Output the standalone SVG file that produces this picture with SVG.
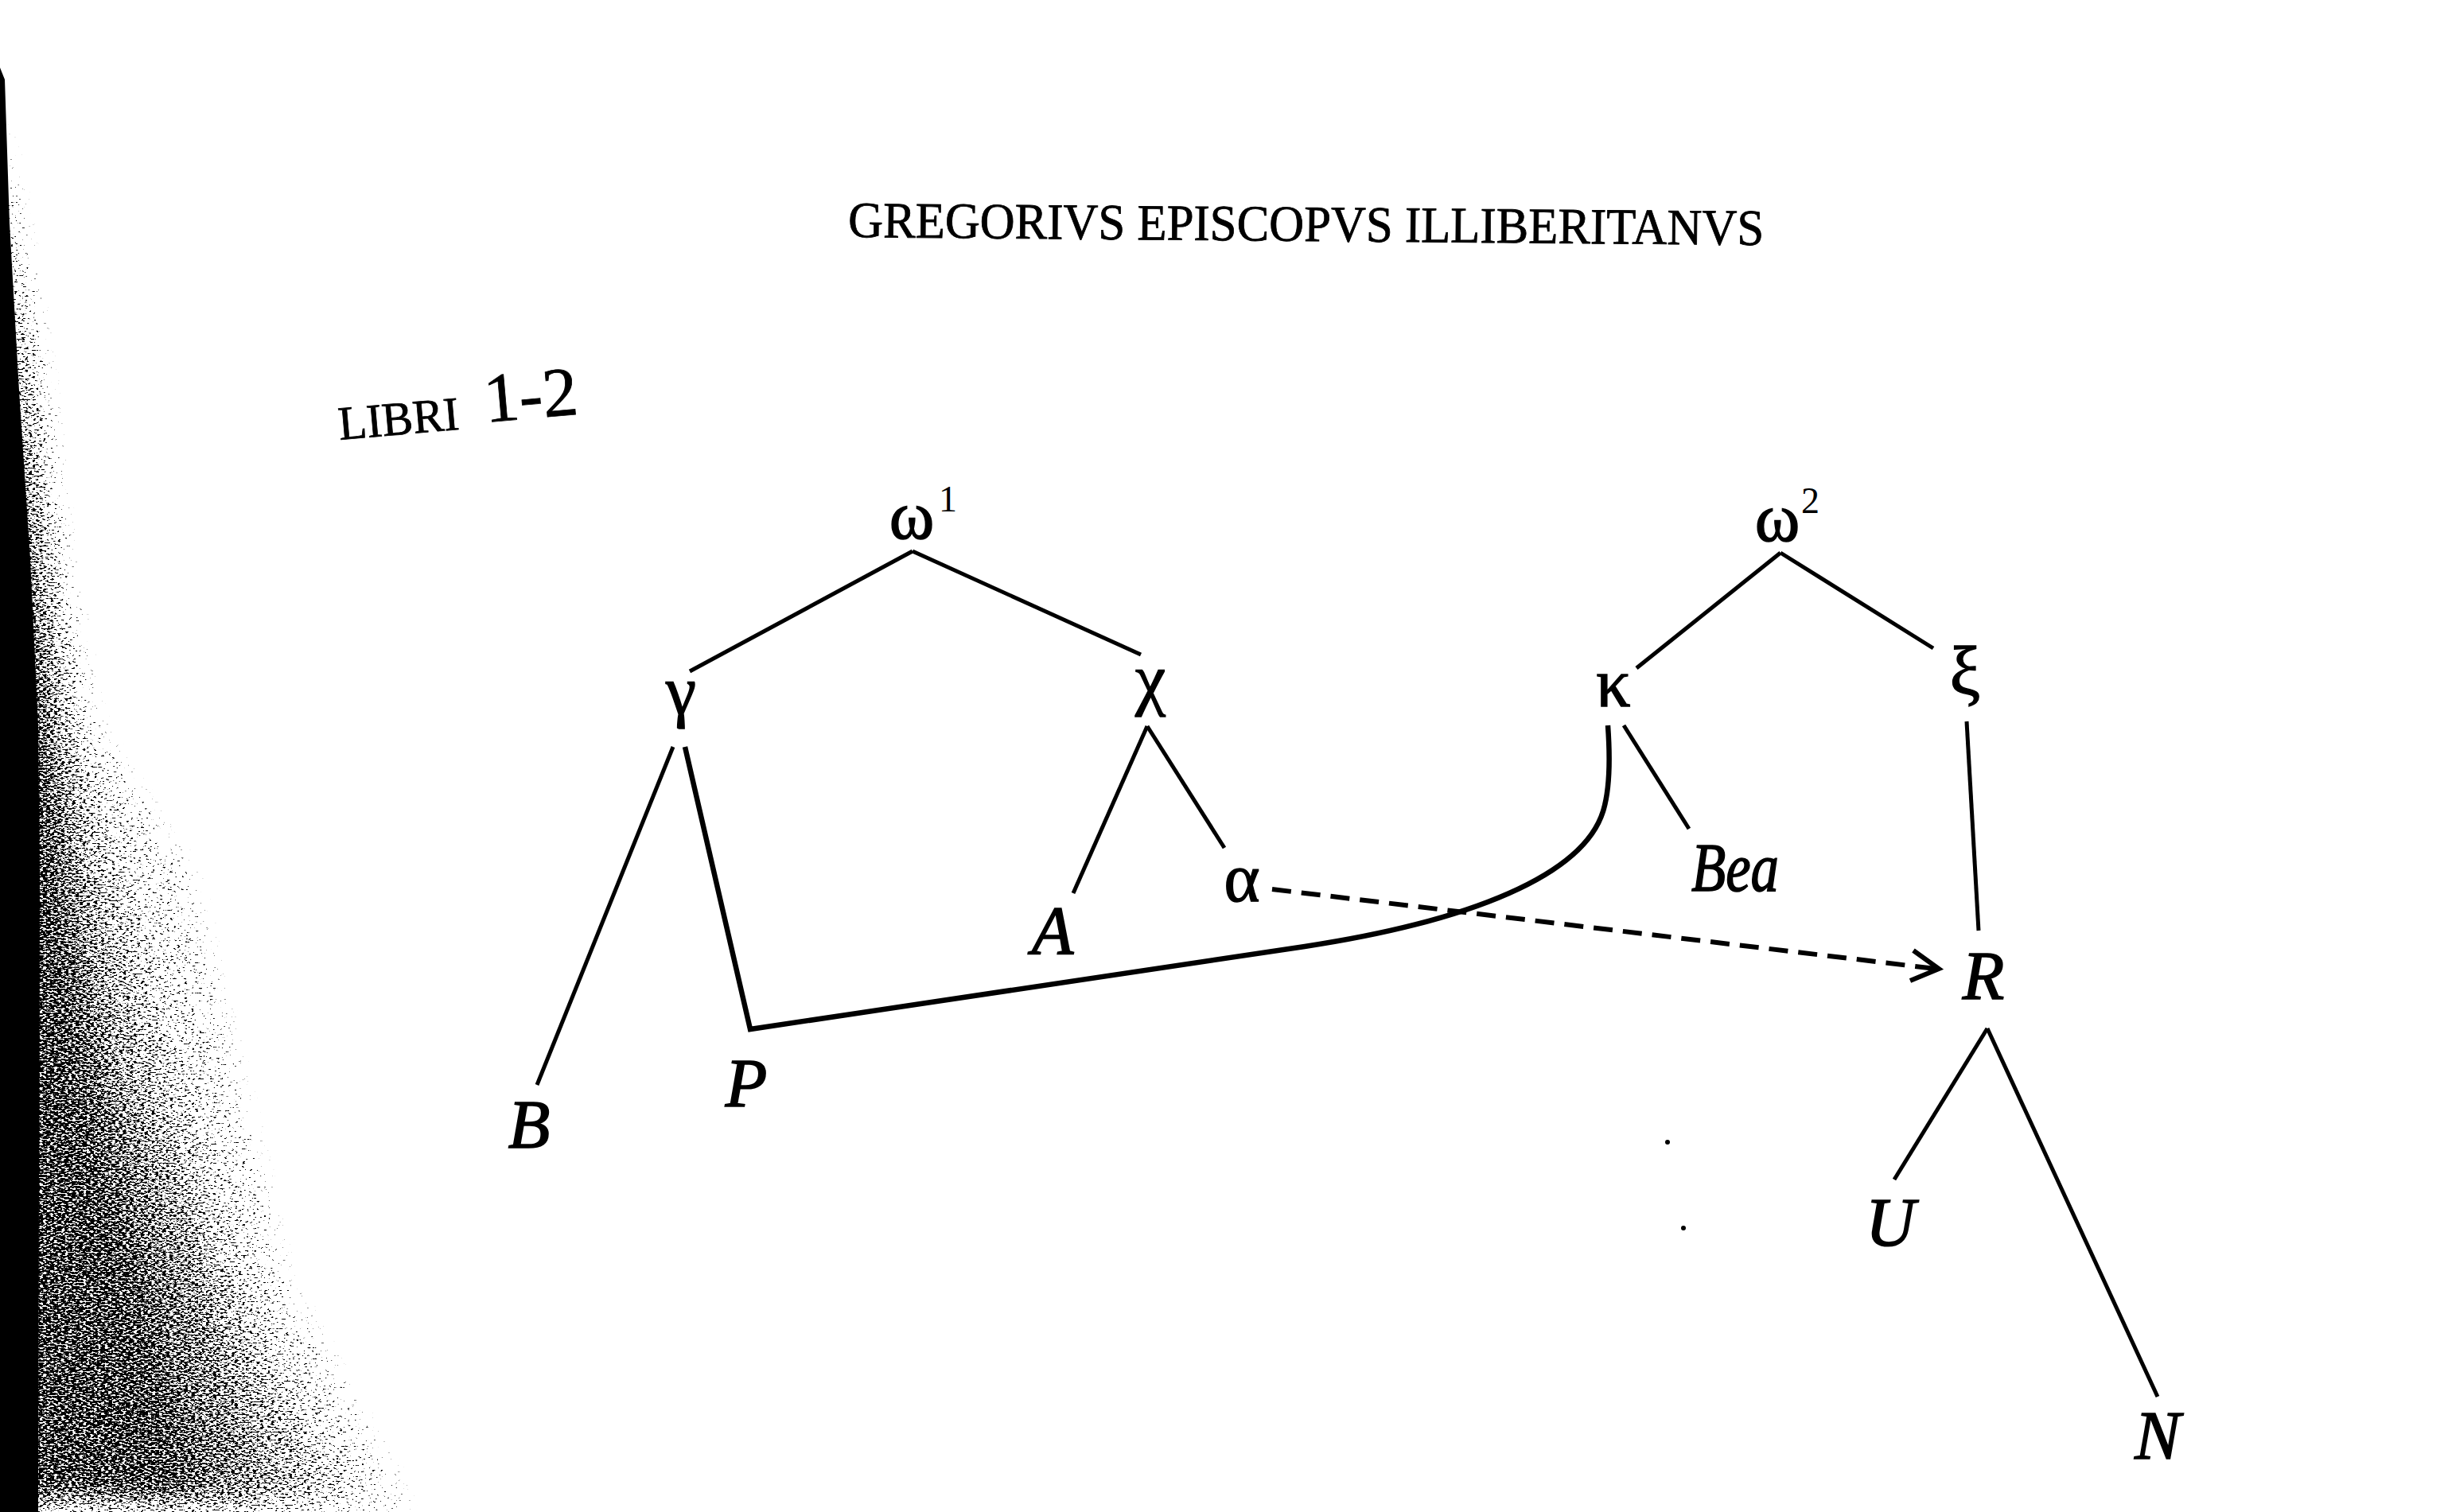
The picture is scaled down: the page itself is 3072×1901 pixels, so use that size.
<svg xmlns="http://www.w3.org/2000/svg" width="3072" height="1901" viewBox="0 0 3072 1901">
<style>
.edge{fill:none;stroke:#000;stroke-width:5;stroke-linecap:butt;stroke-linejoin:miter}
.thick{stroke-width:6.5}
.dash{fill:none;stroke:#000;stroke-width:6;stroke-dasharray:24 13}
.gr{font-family:"Liberation Serif","DejaVu Serif",serif;font-size:86px;fill:#000;stroke:#000;stroke-width:1.4;text-anchor:middle}
.it{font-family:"Liberation Serif","DejaVu Serif",serif;font-size:86px;font-style:italic;fill:#000;stroke:#000;stroke-width:1.6;text-anchor:middle}
.sup{font-family:"Liberation Serif","DejaVu Serif",serif;font-size:46px;fill:#000}
.head{font-family:"Liberation Serif","DejaVu Serif",serif;fill:#000;stroke:#000;stroke-width:0.8}
</style>
<defs>
<filter id="scan" filterUnits="userSpaceOnUse" x="0" y="0" width="700" height="1901">
<feGaussianBlur in="SourceGraphic" stdDeviation="22" result="b"/>
<feColorMatrix in="b" type="matrix" values="0 0 0 0 0 0 0 0 0 0 0 0 0 0 0 0 0 0 1 0" result="sA"/>
<feTurbulence type="fractalNoise" baseFrequency="0.22 0.5" numOctaves="2" seed="7" result="noise"/>
<feColorMatrix in="noise" type="matrix" values="0 0 0 0 0 0 0 0 0 0 0 0 0 0 0 2 0 0 0 -0.5" result="nA"/>
<feComposite in="sA" in2="nA" operator="arithmetic" k1="0" k2="1" k3="1" k4="-0.6" result="sum"/>
<feComponentTransfer in="sum"><feFuncA type="linear" slope="10" intercept="-4.5"/></feComponentTransfer>
</filter>
</defs>
<rect width="3072" height="1901" fill="#fff"/>

<g id="scan-edge">
<g filter="url(#scan)" fill="#000">
<polygon fill-opacity="0.25" points="0,110 20,281 55,491 80,702 120,912 240,1100 300,1355 360,1611 500,1867 530,1901 0,1901"/>
<polygon fill-opacity="0.25" points="0,105 15,281 45,491 65,702 90,912 150,1100 220,1355 300,1611 420,1867 450,1901 0,1901"/>
<polygon fill-opacity="0.25" points="0,100 12,281 35,491 55,702 75,912 100,1100 160,1355 260,1611 340,1867 360,1901 0,1901"/>
<polygon fill-opacity="0.25" points="0,95 10,281 28,491 45,702 60,912 75,1100 110,1355 180,1611 250,1867 270,1901 0,1901"/>
</g>
<polygon fill="#000" points="0,85 6,100 12,281 24,491 38,702 48,912 50,1100 48,1901 0,1901"/>
</g>

<g id="header">
<text class="head" x="1066" y="298" font-size="64" textLength="1151" lengthAdjust="spacingAndGlyphs" transform="rotate(0.5 1066 298)">GREGORIVS EPISCOPVS ILLIBERITANVS</text>
</g>
<g id="title" transform="rotate(-5 427 553)">
<text class="head" x="427" y="553" font-size="60" textLength="152" lengthAdjust="spacingAndGlyphs">LIBRI</text>
<text class="head" x="612" y="547" font-size="88" textLength="118" lengthAdjust="spacingAndGlyphs">1-2</text>
</g>

<g id="connectors">
<line class="edge" x1="1147" y1="693" x2="867" y2="844"/>
<line class="edge" x1="1147" y1="693" x2="1434" y2="823"/>
<line class="edge" x1="846" y1="939" x2="675" y2="1364"/>
<path class="edge thick" d="M861,939 L943,1294 L1640,1190 C1850,1158 1990,1100 2015,1020 C2025,988 2023,940 2021,912"/>
<line class="edge" x1="1442" y1="913" x2="1349" y2="1123"/>
<line class="edge" x1="1442" y1="913" x2="1539" y2="1066"/>
<line class="dash" x1="1599" y1="1118" x2="2433" y2="1218"/>
<polyline class="edge" style="stroke-width:6" points="2405,1195 2437,1218 2401,1233"/>
<line class="edge" x1="2238" y1="695" x2="2057" y2="840"/>
<line class="edge" x1="2238" y1="695" x2="2430" y2="815"/>
<line class="edge" x1="2041" y1="912" x2="2123" y2="1042"/>
<line class="edge" x1="2472" y1="907" x2="2487" y2="1170"/>
<line class="edge" x1="2498" y1="1293" x2="2381" y2="1483"/>
<line class="edge" x1="2498" y1="1293" x2="2712" y2="1756"/>
</g>

<g id="n-omega1"><text class="gr" x="1146" y="677">ω</text><text class="sup" x="1180" y="643">1</text></g>
<g id="n-gamma"><text class="gr" x="856" y="897">γ</text></g>
<g id="n-chi"><text class="gr" x="1446" y="882">χ</text></g>
<g id="n-alpha"><text class="gr" x="1561" y="1133">α</text></g>
<g id="n-A"><text class="it" x="1323" y="1199">A</text></g>
<g id="n-B"><text class="it" x="665" y="1443">B</text></g>
<g id="n-P"><text class="it" x="938" y="1391">P</text></g>
<g id="n-omega2"><text class="gr" x="2234" y="680">ω</text><text class="sup" x="2264" y="645">2</text></g>
<g id="n-kappa"><text class="gr" x="2028" y="888">κ</text></g>
<g id="n-xi"><text class="gr" x="2470" y="873">ξ</text></g>
<g id="n-Bea"><text class="it" x="2181" y="1120" font-size="80" textLength="110" lengthAdjust="spacingAndGlyphs">Bea</text></g>
<g id="n-R"><text class="it" x="2493" y="1256">R</text></g>
<g id="n-U"><text class="it" x="2376" y="1566">U</text></g>
<g id="n-N"><text class="it" x="2712" y="1834">N</text></g>

<g id="specks" fill="#000">
<circle cx="2096" cy="1436" r="3"/>
<circle cx="2116" cy="1544" r="3"/>
</g>
</svg>
